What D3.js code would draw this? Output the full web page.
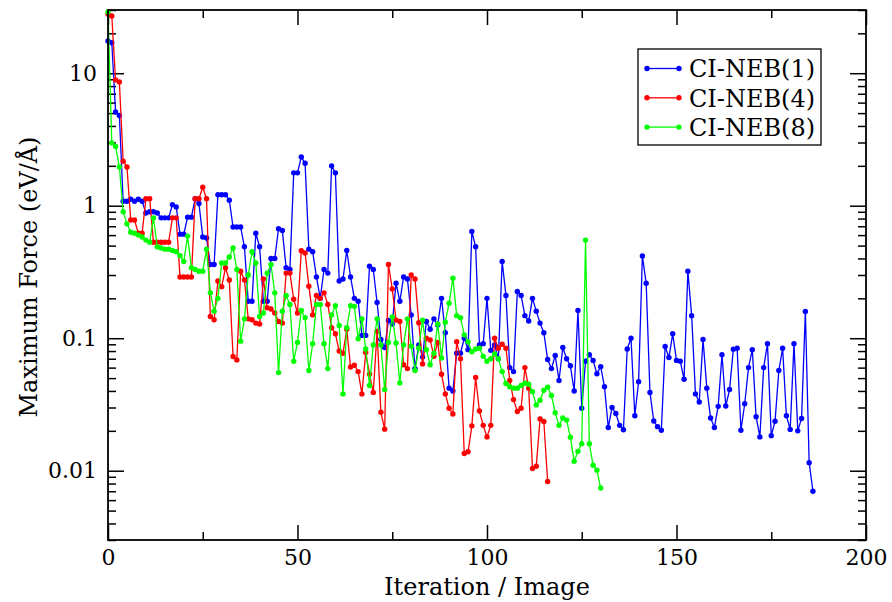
<!DOCTYPE html>
<html>
<head>
<meta charset="utf-8">
<script src="https://cdn.jsdelivr.net/npm/d3@7"></script>
<style>
  body { margin: 0; background: #fff; }
  text { font-family: "DejaVu Serif", serif; fill: #000; }
</style>
</head>
<body>
<div id="body"></div>
<script>
// Maximum force per iteration
var neb1 = [17.5,17,5.1,4.8,1.08,1.08,1.12,1.08,1.12,1.08,
  0.88,0.9,0.9,0.88,0.81,0.81,0.81,1.02,0.98,0.61,
  0.61,0.82,0.82,1.13,1.04,0.58,0.57,0.36,0.36,1.21,
  1.21,1.21,1.1,0.69,0.69,0.69,0.49,0.19,0.19,0.62,
  0.49,0.19,0.19,0.40,0.40,0.67,0.65,0.34,0.33,1.77,
  1.77,2.33,2.09,0.47,0.45,0.29,0.2,0.33,0.31,2.0,
  1.77,0.27,0.28,0.46,0.29,0.2,0.19,0.105,0.105,0.35,
  0.33,0.186,0.098,0.085,0.136,0.128,0.26,0.19,0.29,0.28,
  0.15,0.059,0.089,0.072,0.134,0.117,0.14,0.126,0.2,0.11,
  0.042,0.04,0.077,0.077,0.1,0.082,0.64,0.49,0.089,0.091,
  0.2,0.081,0.089,0.07,0.38,0.21,0.06,0.056,0.225,0.21,
  0.148,0.135,0.2,0.16,0.13,0.11,0.069,0.059,0.074,0.048,
  0.085,0.07,0.062,0.04,0.162,0.0296,0.067,0.075,0.068,0.054,
  0.061,0.043,0.0212,0.03,0.027,0.022,0.0204,0.083,0.1,0.026,
  0.047,0.417,0.26,0.039,0.0237,0.0215,0.0202,0.0865,0.0715,0.108,
  0.068,0.067,0.049,0.32,0.148,0.038,0.033,0.098,0.042,0.025,
  0.0212,0.0306,0.075,0.0308,0.041,0.0826,0.084,0.0202,0.032,0.06,
  0.082,0.0256,0.018,0.06,0.091,0.0184,0.0236,0.057,0.084,0.026,
  0.0205,0.091,0.02,0.0248,0.159,0.0115,0.007];

var neb4 = [28,27,8.9,8.6,2.17,1.96,0.78,0.78,0.62,0.62,
  1.13,1.13,0.53,0.53,0.53,0.53,0.53,0.81,0.81,0.29,
  0.29,0.29,0.29,1.13,1.13,1.38,1.13,0.146,0.138,0.27,
  0.245,0.34,0.275,0.0727,0.0686,0.32,0.275,0.14,0.138,0.13,
  0.128,0.28,0.17,0.166,0.155,0.134,0.13,0.31,0.31,0.197,
  0.155,0.457,0.44,0.247,0.15,0.21,0.2,0.22,0.18,0.12,
  0.108,0.08,0.077,0.117,0.0607,0.0625,0.056,0.038,0.078,0.0535,
  0.039,0.113,0.0276,0.0206,0.36,0.235,0.137,0.134,0.063,0.059,
  0.3,0.28,0.131,0.064,0.1,0.097,0.073,0.093,0.0535,0.038,
  0.0296,0.0268,0.094,0.07,0.0135,0.0139,0.0218,0.0505,0.0282,0.022,
  0.018,0.022,0.1,0.084,0.09,0.084,0.048,0.0344,0.028,0.0296,
  0.06,0.042,0.0104,0.0108,0.0246,0.0235,0.0083];

var neb8 = [29,2.98,2.8,1.96,0.9,0.73,0.63,0.62,0.6,0.58,
  0.55,0.53,0.81,0.49,0.48,0.47,0.47,0.46,0.45,0.42,
  0.38,0.59,0.34,0.33,0.32,0.32,0.47,0.22,0.16,0.2,
  0.37,0.37,0.41,0.48,0.33,0.095,0.14,0.3,0.45,0.37,
  0.146,0.155,0.31,0.36,0.22,0.055,0.16,0.21,0.18,0.067,
  0.093,0.162,0.143,0.057,0.091,0.18,0.18,0.091,0.059,0.15,
  0.176,0.125,0.038,0.12,0.176,0.174,0.099,0.14,0.083,0.044,
  0.089,0.14,0.089,0.041,0.093,0.145,0.092,0.046,0.089,0.14,
  0.087,0.057,0.084,0.137,0.082,0.063,0.077,0.128,0.071,0.132,
  0.184,0.284,0.148,0.143,0.106,0.094,0.079,0.083,0.084,0.073,
  0.067,0.07,0.076,0.07,0.056,0.0455,0.043,0.042,0.042,0.044,
  0.0457,0.045,0.0395,0.0314,0.034,0.0405,0.0427,0.037,0.0274,0.022,
  0.025,0.0241,0.0179,0.0118,0.014,0.016,0.55,0.016,0.011,0.0101,
  0.0074];

var seriesNames = ["CI-NEB(1)", "CI-NEB(4)", "CI-NEB(8)"];
var seriesColors = ["#0000ff", "#ff0000", "#00ff00"];
var xTicks = [0, 50, 100, 150, 200];
var xMinor = [25, 75, 125, 175];
var yTicks = [0.01, 0.1, 1, 10];

var margin = {top: 10, right: 26, bottom: 62, left: 108},
  width = 892 - margin.left - margin.right,
  height = 602 - margin.top - margin.bottom;

var root = d3.select("#body")
  .append("svg")
  .attr("width", width + margin.left + margin.right)
  .attr("height", height + margin.top + margin.bottom);

var svg = root.append("g")
  .attr("transform", "translate(" + margin.left + "," + margin.top + ")");

var x = d3.scaleLinear().domain([0, 200]).range([0, width]);
var y = d3.scaleLog().domain([0.003, 30]).range([height, 0]);

// minor log ticks
var yMinor = [];
[0.001, 0.01, 0.1, 1, 10].forEach(function(d) {
  for (var k = 2; k <= 9; k++) {
    var v = k * d;
    if (v >= 0.003 * 0.999 && v <= 30 * 1.001) yMinor.push(v);
  }
});

function fmt(d) { return String(d); }

function styleAxis(g, big) {
  g.select(".domain").remove();
  g.selectAll("line").attr("stroke", "#000").attr("stroke-width", 1.5);
  g.selectAll("text").attr("font-size", big ? 22 : 0)
    .attr("font-family", "DejaVu Serif").attr("fill", "#000");
}

// bottom / top
svg.append("g").attr("transform", "translate(0," + height + ")")
  .call(d3.axisBottom(x).tickValues(xTicks).tickSize(-15).tickPadding(9).tickFormat(fmt))
  .call(function(g) { styleAxis(g, true); });
svg.append("g").attr("transform", "translate(0," + height + ")")
  .call(d3.axisBottom(x).tickValues(xMinor).tickSize(-8).tickFormat(""))
  .call(function(g) { styleAxis(g, false); });
svg.append("g")
  .call(d3.axisTop(x).tickValues(xTicks).tickSize(-15).tickFormat(""))
  .call(function(g) { styleAxis(g, false); });
svg.append("g")
  .call(d3.axisTop(x).tickValues(xMinor).tickSize(-8).tickFormat(""))
  .call(function(g) { styleAxis(g, false); });

// left / right
svg.append("g")
  .call(d3.axisLeft(y).tickValues(yTicks).tickSize(-16).tickPadding(11).tickFormat(fmt))
  .call(function(g) { styleAxis(g, true); });
svg.append("g")
  .call(d3.axisLeft(y).tickValues(yMinor).tickSize(-8).tickFormat(""))
  .call(function(g) { styleAxis(g, false); });
svg.append("g").attr("transform", "translate(" + width + ",0)")
  .call(d3.axisRight(y).tickValues(yTicks).tickSize(-16).tickFormat(""))
  .call(function(g) { styleAxis(g, false); });
svg.append("g").attr("transform", "translate(" + width + ",0)")
  .call(d3.axisRight(y).tickValues(yMinor).tickSize(-8).tickFormat(""))
  .call(function(g) { styleAxis(g, false); });

// series
var allSeries = [neb1, neb4, neb8];
var line = d3.line()
  .x(function(d, i) { return x(i); })
  .y(function(d) { return y(d); });

allSeries.forEach(function(vals, s) {
  var g = svg.append("g");
  g.append("path")
    .datum(vals)
    .attr("fill", "none")
    .attr("stroke", seriesColors[s])
    .attr("stroke-width", 1.3)
    .attr("d", line);
  g.selectAll("circle")
    .data(vals)
    .enter().append("circle")
    .attr("cx", function(d, i) { return x(i); })
    .attr("cy", function(d) { return y(d); })
    .attr("r", 2.7)
    .attr("fill", seriesColors[s]);
});

// frame
svg.append("rect")
  .attr("width", width)
  .attr("height", height)
  .attr("fill", "none")
  .attr("stroke", "#000")
  .attr("stroke-width", 1.8);

// axis titles
svg.append("text")
  .attr("x", width / 2)
  .attr("y", height + 55)
  .attr("text-anchor", "middle")
  .attr("font-size", 24)
  .text("Iteration / Image");

svg.append("text")
  .attr("transform", "rotate(-90)")
  .attr("x", -(277 - margin.top))
  .attr("y", 37 - margin.left)
  .attr("text-anchor", "middle")
  .attr("font-size", 24)
  .text("Maximum Force (eV/Å)");

// legend
var legend = root.append("g").attr("transform", "translate(638,49)");
legend.append("rect")
  .attr("width", 183)
  .attr("height", 96)
  .attr("fill", "#fff")
  .attr("stroke", "#000")
  .attr("stroke-width", 1.3);

seriesNames.forEach(function(name, s) {
  var ly = 19.5 + s * 29.3;
  var row = legend.append("g").attr("transform", "translate(0," + ly + ")");
  row.append("line")
    .attr("x1", 9).attr("x2", 41)
    .attr("stroke", seriesColors[s]).attr("stroke-width", 1.3);
  row.selectAll("circle").data([9, 41]).enter().append("circle")
    .attr("cx", function(d) { return d; })
    .attr("r", 2.7)
    .attr("fill", seriesColors[s]);
  row.append("text")
    .attr("x", 51)
    .attr("y", 8.7)
    .attr("font-size", 24)
    .text(name);
});
</script>
</body>
</html>
